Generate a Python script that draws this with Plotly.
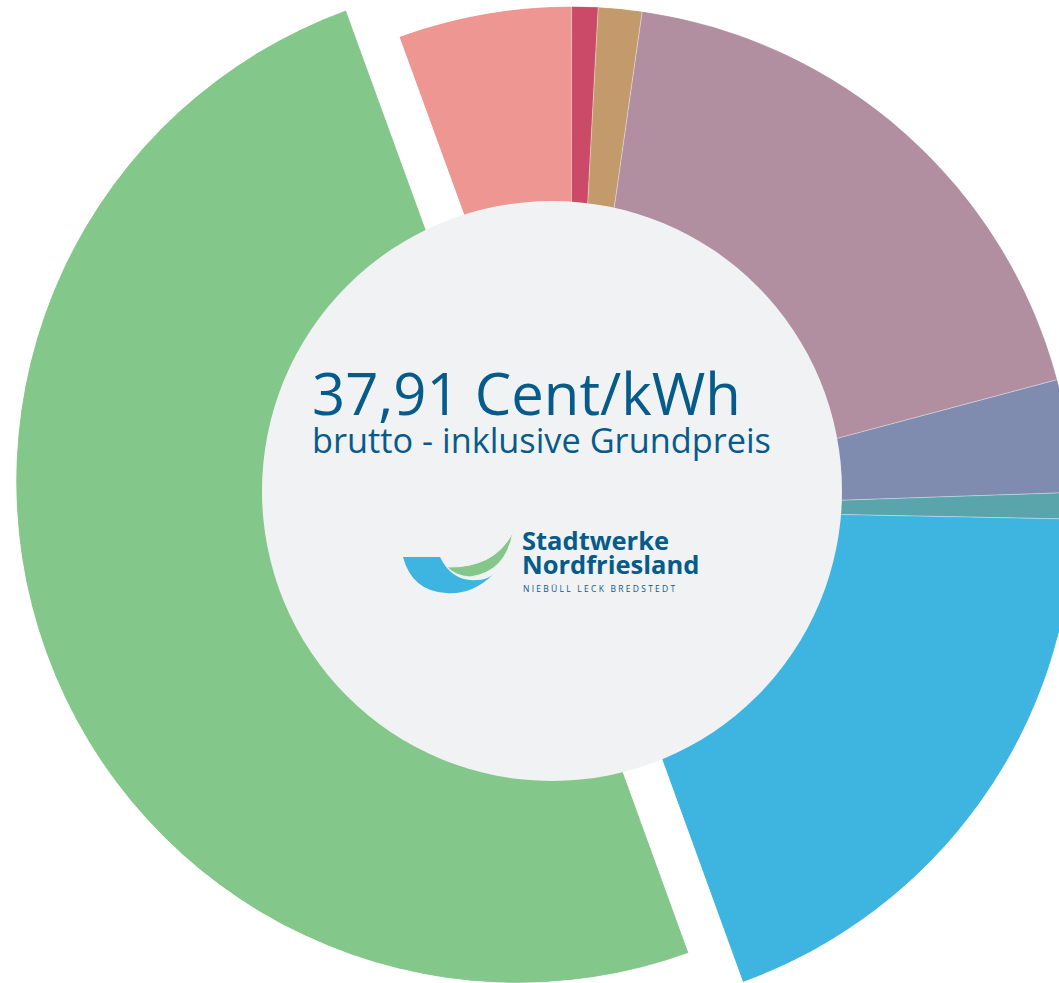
import math
import numpy as np
import plotly.graph_objects as go

# ---------------- data (ct/kWh, brutto) ----------------
categories = ["Stromsteuer", "Offshore-Netzumlage", "§19 StromNEV-Umlage", "Umsatzsteuer",
              "Konzessionsabgabe", "KWKG-Umlage", "Netzentgelte", "Energiebeschaffung & Vertrieb"]
values_ct = [2.11, 0.32, 0.53, 7.05, 1.37, 0.32, 7.26, 18.95]
colors = ["#ee9692", "#cb4a68", "#c29a6b", "#b28fa0", "#7f8cb0", "#59a5ab", "#3db5e0", "#84c78a"]
half = ["rechts"] * 7 + ["links"]

headline = "37,91 Cent/kWh"
subline = "brutto - inklusive Grundpreis"
brand_lines = ["Stadtwerke", "Nordfriesland"]
brand_places = "NIEBÜLL LECK BREDSTEDT"

# ---------------- layout constants (pixels) ----------------
W, H = 1080, 983
START_DEG = -20.0                     # first slice starts here (clockwise from 12 o'clock)
HALVES = {"rechts": dict(cx=571.3, cy=509.4, r=503.0),
          "links": dict(cx=518.0, cy=483.0, r=503.0)}
HOLE = dict(cx=552.0, cy=491.0, r=290.0)
TEXT = "#065b8a"
HOLE_COLOR = "#f1f2f4"


def px(x):
    return x / W


def py(y):
    return 1 - y / H


def sector_bbox(s0, s1):
    angs = [s0, s1]
    k = math.ceil(s0 / 90)
    while k * 90 <= s1:
        angs.append(k * 90)
        k += 1
    xs = [0.0] + [math.cos(math.radians(a)) for a in angs]
    ys = [0.0] + [math.sin(math.radians(a)) for a in angs]
    return min(xs), min(ys), max(xs), max(ys)


vals = np.array(values_ct, dtype=float)
span = vals / vals.sum() * 360.0
start = START_DEG + np.concatenate([[0.0], np.cumsum(span)[:-1]])
mid = start + span / 2

fig = go.Figure()
for n, (name, g) in enumerate(HALVES.items()):
    idx = [i for i, s in enumerate(half) if s == name]
    a0 = start[idx[0]]
    a1 = start[idx[-1]] + span[idx[-1]]
    s0, s1 = 90 - a1, 90 - a0
    shift = math.floor((s0 + 180) / 360) * 360
    s0, s1 = s0 - shift, s1 - shift
    bx0, by0, bx1, by1 = sector_bbox(s0, s1)
    dx = [max(0.0, (g["cx"] + g["r"] * bx0) / W), min(1.0, (g["cx"] + g["r"] * bx1) / W)]
    dy = [max(0.0, 1 - (g["cy"] - g["r"] * by0) / H), min(1.0, 1 - (g["cy"] - g["r"] * by1) / H)]
    pname = "polar" if n == 0 else f"polar{n + 1}"
    fig.add_trace(go.Barpolar(
        r=[1.0] * len(idx),
        theta=mid[idx],
        width=span[idx],
        marker=dict(color=[colors[i] for i in idx],
                    line=dict(color="rgba(255,255,255,0.5)", width=0.6)),
        text=[categories[i] for i in idx],
        customdata=[values_ct[i] for i in idx],
        hovertemplate="%{text}: %{customdata:.2f} ct/kWh<extra></extra>",
        subplot=pname,
        showlegend=False,
    ))
    fig.update_layout(**{pname: dict(
        domain=dict(x=dx, y=dy),
        sector=[s0, s1],
        hole=0,
        bgcolor="rgba(0,0,0,0)",
        radialaxis=dict(range=[0, 1], visible=False, showgrid=False, showline=False,
                        showticklabels=False, ticks=""),
        angularaxis=dict(rotation=90, direction="clockwise", visible=False, showgrid=False,
                         showline=False, showticklabels=False, ticks=""),
    )})


def path(cmds):
    out = []
    for c, pts in cmds:
        out.append(c + " " + " ".join(f"{px(x):.5f},{py(y):.5f}" for x, y in pts))
    return " ".join(out) + " Z"


blue_swoosh = [("M", [(403, 557)]), ("L", [(440, 557)]), ("Q", [(452, 582), (477, 580)]),
               ("Q", [(486, 580), (492.5, 575)]), ("Q", [(472, 595), (446, 593)]),
               ("Q", [(412, 591), (403, 557)])]
green_swoosh = [("M", [(447, 567)]), ("Q", [(495, 568), (513, 532)]),
                ("Q", [(506, 572), (470, 577)]), ("Q", [(455, 576), (447, 567)])]

shapes = [
    dict(type="circle", xref="paper", yref="paper",
         x0=px(HOLE["cx"] - HOLE["r"]), x1=px(HOLE["cx"] + HOLE["r"]),
         y0=py(HOLE["cy"] + HOLE["r"]), y1=py(HOLE["cy"] - HOLE["r"]),
         fillcolor=HOLE_COLOR, line=dict(width=0), layer="above"),
    dict(type="path", xref="paper", yref="paper", path=path(blue_swoosh),
         fillcolor="#3db5e0", line=dict(width=0), layer="above"),
    dict(type="path", xref="paper", yref="paper", path=path(green_swoosh),
         fillcolor="#84c78a", line=dict(color=HOLE_COLOR, width=1), layer="above"),
]

FONT = "Open Sans"
annotations = [
    dict(text=(f'<span style="font-size:58px">{headline}</span><br>'
               f'<span style="font-size:34.3px">{subline}</span>'),
         x=px(311), y=py(407.9), xanchor="left", yanchor="middle", align="left",
         font=dict(family=FONT, size=29, color=TEXT)),
    dict(text=(f'<span style="font-size:25.5px">{brand_lines[0]}</span><br>'
               f'<span style="font-size:25.5px">{brand_lines[1]}</span>'),
         x=px(521), y=py(552.1), xanchor="left", yanchor="middle", align="left",
         font=dict(family=FONT, size=18.46, color=TEXT, weight=700)),
    dict(text=f'<span style="letter-spacing:2.26px">{brand_places}</span>', x=px(522), y=py(588.5),
         xanchor="left", yanchor="middle", font=dict(family=FONT, size=8.5, color=TEXT)),
]
for a in annotations:
    a.update(xref="paper", yref="paper", showarrow=False, borderpad=0)

fig.update_layout(
    template="none",
    width=W, height=H, autosize=False,
    margin=dict(l=0, r=0, t=0, b=0, pad=0),
    paper_bgcolor="white", plot_bgcolor="white",
    showlegend=False,
    shapes=shapes,
    annotations=annotations,
)

fig.write_html("out.html", config={"displayModeBar": False},
               post_script="document.documentElement.style.overflow='hidden';"
                           "document.body.style.overflow='hidden';")
